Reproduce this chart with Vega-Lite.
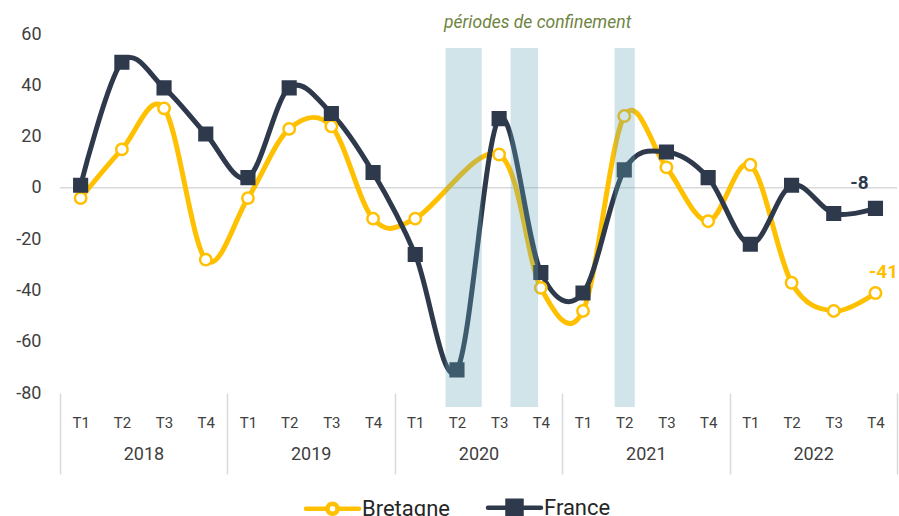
{
  "$schema": "https://vega.github.io/schema/vega-lite/v6.json",
  "width": 837,
  "height": 359,
  "autosize": "none",
  "padding": {"left": 60, "top": 34, "right": 2, "bottom": 123},
  "background": "#ffffff",
  "config": {
    "view": {"stroke": null},
    "font": "Roboto",
    "locale": {"number": {"decimal": ",", "thousands": " ", "grouping": [3], "currency": ["", " €"], "minus": "-"}}
  },
  "datasets": {
    "series": [
      {"serie": "Bretagne", "annee": 2018, "trimestre": "T1", "date": "2018-02-15", "valeur": -4},
      {"serie": "Bretagne", "annee": 2018, "trimestre": "T2", "date": "2018-05-16", "valeur": 15},
      {"serie": "Bretagne", "annee": 2018, "trimestre": "T3", "date": "2018-08-16", "valeur": 31},
      {"serie": "Bretagne", "annee": 2018, "trimestre": "T4", "date": "2018-11-15", "valeur": -28},
      {"serie": "Bretagne", "annee": 2019, "trimestre": "T1", "date": "2019-02-15", "valeur": -4},
      {"serie": "Bretagne", "annee": 2019, "trimestre": "T2", "date": "2019-05-16", "valeur": 23},
      {"serie": "Bretagne", "annee": 2019, "trimestre": "T3", "date": "2019-08-16", "valeur": 24},
      {"serie": "Bretagne", "annee": 2019, "trimestre": "T4", "date": "2019-11-15", "valeur": -12},
      {"serie": "Bretagne", "annee": 2020, "trimestre": "T1", "date": "2020-02-15", "valeur": -12},
      {"serie": "Bretagne", "annee": 2020, "trimestre": "T2", "date": "2020-05-16", "valeur": null},
      {"serie": "Bretagne", "annee": 2020, "trimestre": "T3", "date": "2020-08-16", "valeur": 13},
      {"serie": "Bretagne", "annee": 2020, "trimestre": "T4", "date": "2020-11-15", "valeur": -39},
      {"serie": "Bretagne", "annee": 2021, "trimestre": "T1", "date": "2021-02-15", "valeur": -48},
      {"serie": "Bretagne", "annee": 2021, "trimestre": "T2", "date": "2021-05-16", "valeur": 28},
      {"serie": "Bretagne", "annee": 2021, "trimestre": "T3", "date": "2021-08-16", "valeur": 8},
      {"serie": "Bretagne", "annee": 2021, "trimestre": "T4", "date": "2021-11-15", "valeur": -13},
      {"serie": "Bretagne", "annee": 2022, "trimestre": "T1", "date": "2022-02-15", "valeur": 9},
      {"serie": "Bretagne", "annee": 2022, "trimestre": "T2", "date": "2022-05-16", "valeur": -37},
      {"serie": "Bretagne", "annee": 2022, "trimestre": "T3", "date": "2022-08-16", "valeur": -48},
      {"serie": "Bretagne", "annee": 2022, "trimestre": "T4", "date": "2022-11-15", "valeur": -41},
      {"serie": "France", "annee": 2018, "trimestre": "T1", "date": "2018-02-15", "valeur": 1},
      {"serie": "France", "annee": 2018, "trimestre": "T2", "date": "2018-05-16", "valeur": 49},
      {"serie": "France", "annee": 2018, "trimestre": "T3", "date": "2018-08-16", "valeur": 39},
      {"serie": "France", "annee": 2018, "trimestre": "T4", "date": "2018-11-15", "valeur": 21},
      {"serie": "France", "annee": 2019, "trimestre": "T1", "date": "2019-02-15", "valeur": 4},
      {"serie": "France", "annee": 2019, "trimestre": "T2", "date": "2019-05-16", "valeur": 39},
      {"serie": "France", "annee": 2019, "trimestre": "T3", "date": "2019-08-16", "valeur": 29},
      {"serie": "France", "annee": 2019, "trimestre": "T4", "date": "2019-11-15", "valeur": 6},
      {"serie": "France", "annee": 2020, "trimestre": "T1", "date": "2020-02-15", "valeur": -26},
      {"serie": "France", "annee": 2020, "trimestre": "T2", "date": "2020-05-16", "valeur": -71},
      {"serie": "France", "annee": 2020, "trimestre": "T3", "date": "2020-08-16", "valeur": 27},
      {"serie": "France", "annee": 2020, "trimestre": "T4", "date": "2020-11-15", "valeur": -33},
      {"serie": "France", "annee": 2021, "trimestre": "T1", "date": "2021-02-15", "valeur": -41},
      {"serie": "France", "annee": 2021, "trimestre": "T2", "date": "2021-05-16", "valeur": 7},
      {"serie": "France", "annee": 2021, "trimestre": "T3", "date": "2021-08-16", "valeur": 14},
      {"serie": "France", "annee": 2021, "trimestre": "T4", "date": "2021-11-15", "valeur": 4},
      {"serie": "France", "annee": 2022, "trimestre": "T1", "date": "2022-02-15", "valeur": -22},
      {"serie": "France", "annee": 2022, "trimestre": "T2", "date": "2022-05-16", "valeur": 1},
      {"serie": "France", "annee": 2022, "trimestre": "T3", "date": "2022-08-16", "valeur": -10},
      {"serie": "France", "annee": 2022, "trimestre": "T4", "date": "2022-11-15", "valeur": -8}
    ],
    "confinements": [
      {"periode": "Confinement 1", "debut": "2020-04-21", "fin": "2020-07-09"},
      {"periode": "Confinement 2", "debut": "2020-09-10", "fin": "2020-11-09"},
      {"periode": "Confinement 3", "debut": "2021-04-25", "fin": "2021-06-08"}
    ]
  },
  "layer": [
    {
      "data": {"values": [{}]},
      "mark": {"type": "rule", "color": "#D9D9D9", "strokeWidth": 1.5},
      "encoding": {"y": {"datum": 0, "type": "quantitative"}}
    },
    {
      "data": {"name": "series"},
      "transform": [{"filter": "datum.valeur != null"}],
      "mark": {"type": "line", "interpolate": "cardinal", "strokeWidth": 5},
      "encoding": {
        "x": {
          "field": "date", "type": "temporal",
          "scale": {"type": "utc", "domain": [{"year": 2018, "month": 1, "date": 1, "utc": true}, {"year": 2023, "month": 1, "date": 1, "utc": true}]},
          "axis": {
            "orient": "bottom", "title": null, "grid": false, "domain": false, "ticks": false, "tickSize": 0,
            "labelPadding": 22, "labelFontSize": 15, "labelColor": "#404040", "labelFont": "Roboto",
            "labelAngle": 0, "labelFlush": false, "labelOverlap": false,
            "labelExpr": "'T' + (floor(utcmonth(datum.value) / 3) + 1)",
            "values": [
              {"year": 2018, "month": 2, "date": 15, "utc": true}, {"year": 2018, "month": 5, "date": 16, "utc": true}, {"year": 2018, "month": 8, "date": 16, "utc": true}, {"year": 2018, "month": 11, "date": 15, "utc": true},
              {"year": 2019, "month": 2, "date": 15, "utc": true}, {"year": 2019, "month": 5, "date": 16, "utc": true}, {"year": 2019, "month": 8, "date": 16, "utc": true}, {"year": 2019, "month": 11, "date": 15, "utc": true},
              {"year": 2020, "month": 2, "date": 15, "utc": true}, {"year": 2020, "month": 5, "date": 16, "utc": true}, {"year": 2020, "month": 8, "date": 16, "utc": true}, {"year": 2020, "month": 11, "date": 15, "utc": true},
              {"year": 2021, "month": 2, "date": 15, "utc": true}, {"year": 2021, "month": 5, "date": 16, "utc": true}, {"year": 2021, "month": 8, "date": 16, "utc": true}, {"year": 2021, "month": 11, "date": 15, "utc": true},
              {"year": 2022, "month": 2, "date": 15, "utc": true}, {"year": 2022, "month": 5, "date": 16, "utc": true}, {"year": 2022, "month": 8, "date": 16, "utc": true}, {"year": 2022, "month": 11, "date": 15, "utc": true}
            ]
          }
        },
        "y": {
          "field": "valeur", "type": "quantitative",
          "scale": {"domain": [-80, 60], "nice": false, "zero": false},
          "axis": {
            "title": null, "grid": false, "domain": false, "ticks": false,
            "values": [-80, -60, -40, -20, 0, 20, 40, 60],
            "labelPadding": 19, "labelFontSize": 18, "labelColor": "#404040", "labelFont": "Roboto"
          }
        },
        "stroke": {
          "field": "serie", "type": "nominal",
          "scale": {"domain": ["Bretagne", "France"], "range": ["#FFC000", "#2E3A4C"]},
          "legend": {
            "orient": "none", "legendX": 260, "legendY": 461, "direction": "horizontal", "title": null,
            "padding": 0, "symbolSize": 400, "symbolStrokeWidth": 4, "labelOffset": 17, "columnPadding": 29,
            "labelFontSize": 22, "labelFont": "Roboto", "labelColor": "#262626",
            "encode": {
              "symbols": {
                "update": {
                  "shape": {"signal": "datum.value === 'Bretagne' ? 'M-2.65,0L-0.5,0M0.5,0L2.65,0M0.5,0A0.5,0.5,0,1,1,-0.5,0A0.5,0.5,0,1,1,0.5,0Z' : 'M-2.65,0L-0.7,0M0.7,0L2.65,0M-0.7,-0.7L0.7,-0.7L0.7,0.7L-0.7,0.7Z'"},
                  "fill": {"signal": "datum.value === 'Bretagne' ? '#ffffff' : '#2E3A4C'"},
                  "strokeWidth": {"value": 4.5},
                  "strokeCap": {"value": "round"},
                  "opacity": {"value": 1}
                }
              }
            }
          }
        }
      }
    },
    {
      "data": {"name": "series"},
      "transform": [{"filter": "datum.valeur != null && datum.serie == 'Bretagne'"}],
      "mark": {"type": "point", "shape": "circle", "filled": true, "fill": "#ffffff", "stroke": "#FFC000", "strokeWidth": 2.5, "size": 130, "opacity": 1},
      "encoding": {
        "x": {
          "field": "date", "type": "temporal",
          "axis": {
            "orient": "bottom", "title": null, "grid": false, "domain": false, "ticks": false, "tickSize": 0,
            "labelPadding": 52, "labelFontSize": 18, "labelColor": "#404040", "labelFont": "Roboto",
            "labelAngle": 0, "labelFlush": false, "labelOverlap": false,
            "labelExpr": "'' + utcyear(datum.value)",
            "values": [
              {"year": 2018, "month": 7, "date": 2, "utc": true}, {"year": 2019, "month": 7, "date": 2, "utc": true},
              {"year": 2020, "month": 7, "date": 2, "utc": true}, {"year": 2021, "month": 7, "date": 2, "utc": true},
              {"year": 2022, "month": 7, "date": 2, "utc": true}
            ]
          }
        },
        "y": {"field": "valeur", "type": "quantitative"}
      }
    },
    {
      "data": {"name": "series"},
      "transform": [{"filter": "datum.valeur != null && datum.serie == 'France'"}],
      "mark": {"type": "point", "shape": "square", "filled": true, "fill": "#2E3A4C", "stroke": "#2E3A4C", "strokeWidth": 2.5, "size": 160, "opacity": 1},
      "encoding": {
        "x": {"field": "date", "type": "temporal", "axis": null},
        "y": {"field": "valeur", "type": "quantitative"}
      }
    },
    {
      "data": {"name": "confinements"},
      "mark": {"type": "rect", "color": "#62A5B9", "opacity": 0.3},
      "encoding": {
        "x": {
          "field": "debut", "type": "temporal",
          "axis": {
            "orient": "bottom", "title": null, "grid": false, "domain": false, "labels": false,
            "ticks": true, "tickSize": 81, "tickColor": "#D9D9D9", "tickWidth": 1.5,
            "values": [
              {"year": 2018, "month": 1, "date": 1, "utc": true}, {"year": 2019, "month": 1, "date": 1, "utc": true},
              {"year": 2020, "month": 1, "date": 1, "utc": true}, {"year": 2021, "month": 1, "date": 1, "utc": true},
              {"year": 2022, "month": 1, "date": 1, "utc": true}, {"year": 2023, "month": 1, "date": 1, "utc": true}
            ]
          }
        },
        "x2": {"field": "fin"},
        "y": {"datum": 54.5, "type": "quantitative"},
        "y2": {"datum": -85.5}
      }
    },
    {
      "data": {"values": [{"texte": "périodes de confinement"}]},
      "mark": {"type": "text", "font": "Roboto", "fontStyle": "italic", "fontSize": 17.5, "color": "#6E8440", "align": "center", "baseline": "middle"},
      "encoding": {
        "text": {"field": "texte"},
        "x": {"datum": {"year": 2020, "month": 11, "date": 8, "utc": true}, "type": "temporal", "axis": null},
        "y": {"datum": 64.3, "type": "quantitative"}
      }
    },
    {
      "data": {"name": "series"},
      "transform": [{"filter": "datum.annee == 2022 && datum.trimestre == 'T4' && datum.serie == 'France'"}],
      "mark": {"type": "text", "font": "Roboto", "fontWeight": "bold", "fontSize": 19, "color": "#2E3A4C", "align": "center", "baseline": "middle", "dx": -16, "dy": -25},
      "encoding": {
        "text": {"field": "valeur", "type": "quantitative"},
        "x": {"field": "date", "type": "temporal", "axis": null},
        "y": {"field": "valeur", "type": "quantitative"}
      }
    },
    {
      "data": {"name": "series"},
      "transform": [{"filter": "datum.annee == 2022 && datum.trimestre == 'T4' && datum.serie == 'Bretagne'"}],
      "mark": {"type": "text", "font": "Roboto", "fontWeight": "bold", "fontSize": 19, "color": "#FFC000", "align": "center", "baseline": "middle", "dx": 8, "dy": -21},
      "encoding": {
        "text": {"field": "valeur", "type": "quantitative"},
        "x": {"field": "date", "type": "temporal", "axis": null},
        "y": {"field": "valeur", "type": "quantitative"}
      }
    }
  ],
  "resolve": {"axis": {"x": "independent"}}
}
